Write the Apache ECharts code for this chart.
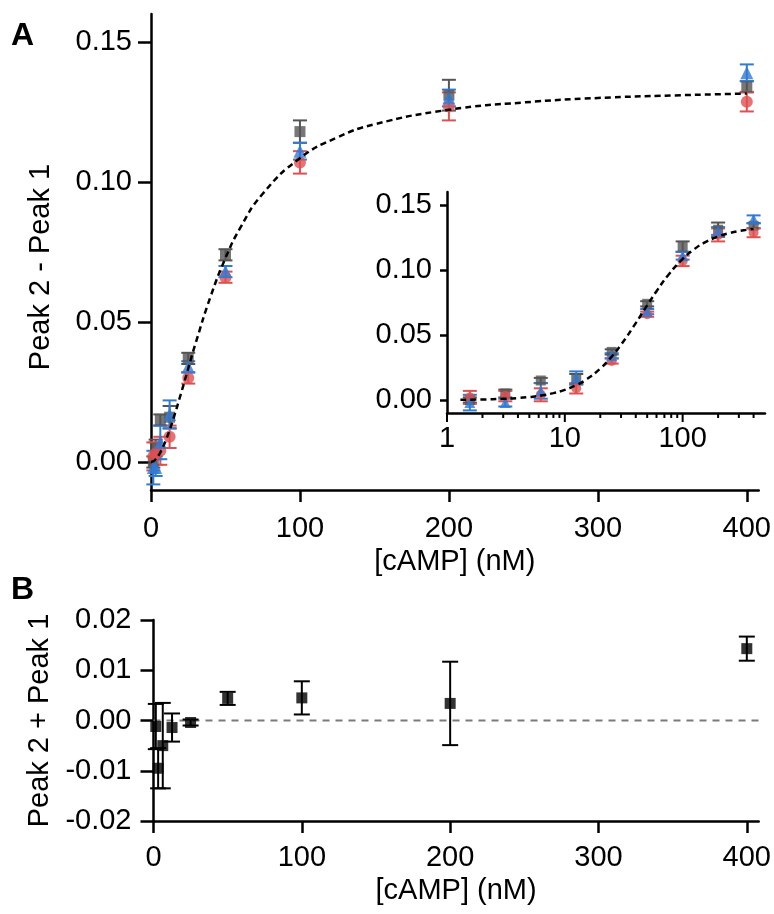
<!DOCTYPE html>
<html>
<head>
<meta charset="utf-8">
<script src="https://cdn.jsdelivr.net/npm/echarts@6/dist/echarts.min.js"></script>
<style>
html,body{margin:0;padding:0;background:#fff;}
#chart{width:774px;height:914px;}
</style>
</head>
<body>
<div id="chart"></div>
<script>
// ---- Data ----
const conc = [1.5625, 3.125, 6.25, 12.5, 25, 50, 100, 200, 400];

const grayY   = [0.000, 0.005, 0.015, 0.016, 0.037, 0.074, 0.118, 0.131, 0.134];
const grayErr = [0.002, 0.003, 0.002, 0.004, 0.002, 0.002, 0.004, 0.0055, 0.002];

const redY    = [0.002, 0.003, 0.004, 0.009, 0.030, 0.066, 0.107, 0.127, 0.1287];
const redErr  = [0.005, 0.004, 0.005, 0.004, 0.002, 0.002, 0.004, 0.005, 0.0035];

const blueY   = [-0.002, -0.002, 0.007, 0.017, 0.034, 0.068, 0.111, 0.130, 0.139];
const blueErr = [0.006, 0.003, 0.006, 0.005, 0.002, 0.002, 0.003, 0.003, 0.003];

const fitX = [0, 1.3, 2, 3, 4, 5, 6.25, 8, 10, 12.5, 15, 20, 25, 30, 40, 50, 60, 75, 100, 125, 150, 200, 250, 300, 350, 400];
const fitY = [0, 0.0002, 0.0004, 0.0009, 0.0015, 0.0023, 0.0034, 0.0053, 0.0078, 0.0114, 0.0154, 0.0242, 0.0334, 0.0425, 0.0591, 0.0728, 0.0837, 0.0958, 0.1085, 0.1159, 0.1206, 0.1258, 0.1284, 0.1300, 0.1309, 0.1316];

const sumY   = [-0.0012, -0.0095, -0.005, -0.0014, -0.0004, 0.0044, 0.0045, 0.0034, 0.0143];
const sumErr = [0.0045, 0.004, 0.0085, 0.0028, 0.0006, 0.0013, 0.0033, 0.0083, 0.0024];

const xTicks = [0, 100, 200, 300, 400];
const yTicksA = [0, 0.05, 0.10, 0.15];
const yTicksB = [-0.02, -0.01, 0, 0.01, 0.02];
const insetMajor = [1, 10, 100];
const insetMinor = [2,3,4,5,6,7,8,9,20,30,40,50,60,70,80,90,200,300,400];

// ---- Styles ----
const FONT = 'Liberation Sans, Arial, sans-serif';
const FS = 29;
const GRAY = '#555555', RED = '#e05050', BLUE = '#2f7bd6';
const AXW = 2.5;

function pairs(xs, ys){ return xs.map((x,i)=>[x, ys[i]]); }
function triples(xs, ys, es){ return xs.map((x,i)=>[x, ys[i], es[i]]); }

function errBar(color, capW){
  return function(params, api){
    const x = api.value(0), y = api.value(1), e = api.value(2);
    const t = api.coord([x, y + e]), b = api.coord([x, y - e]);
    const h = capW / 2;
    const st = {stroke: color, lineWidth: 2};
    return {type:'group', children:[
      {type:'line', shape:{x1:t[0], y1:t[1], x2:b[0], y2:b[1]}, style:st},
      {type:'line', shape:{x1:t[0]-h, y1:t[1], x2:t[0]+h, y2:t[1]}, style:st},
      {type:'line', shape:{x1:b[0]-h, y1:b[1], x2:b[0]+h, y2:b[1]}, style:st}
    ]};
  };
}

function tickRender(params, api){
  const v = api.value(0), len = api.value(1);
  const p = api.coord([v, -0.01]);
  return {type:'line', shape:{x1:p[0], y1:p[1], x2:p[0], y2:p[1] + len}, style:{stroke:'#000', lineWidth:2}};
}

const axisLine = {show:true, onZero:false, lineStyle:{color:'#000', width:AXW}};
const tick = (vals, len)=>({show:true, inside:false, length:len, customValues:vals, lineStyle:{color:'#000', width:AXW}});
const label = (vals, fmt, margin)=>({color:'#000', fontFamily:FONT, fontSize:FS, margin:margin, customValues:vals, formatter:fmt});
const nameStyle = {color:'#000', fontFamily:FONT, fontSize:FS};

const chart = echarts.init(document.getElementById('chart'), null, {renderer:'canvas'});

const option = {
  backgroundColor:'#fff',
  animation:false,
  graphic:[
    {type:'text', left:11, top:20, style:{text:'A', fontFamily:FONT, fontWeight:'bold', fontSize:32, fill:'#000'}},
    {type:'text', left:11, top:574, style:{text:'B', fontFamily:FONT, fontWeight:'bold', fontSize:32, fill:'#000'}}
  ],
  grid:[
    {left:151, top:14, width:615, height:476},
    {left:447, top:192, width:318, height:221},
    {left:153.5, top:620, width:616, height:201}
  ],
  xAxis:[
    {gridIndex:0, type:'value', min:0, max:408,
     name:'[cAMP] (nM)', nameLocation:'middle', nameGap:55, nameTextStyle:nameStyle,
     axisLine, axisTick:tick(xTicks, 12), axisLabel:label(xTicks, v=>String(v), 24), splitLine:{show:false}},
    {gridIndex:1, type:'log', logBase:10, min:1, max:500,
     axisLine, axisTick:{show:false},
     axisLabel:{color:'#000', fontFamily:FONT, fontSize:FS, margin:11,
       formatter:v=> (insetMajor.indexOf(Math.round(v))>=0 && Math.abs(v-Math.round(v))<1e-6) ? String(Math.round(v)) : ''},
     splitLine:{show:false}, minorTick:{show:false}},
    {gridIndex:2, type:'value', min:0, max:408,
     name:'[cAMP] (nM)', nameLocation:'middle', nameGap:55, nameTextStyle:nameStyle,
     axisLine, axisTick:tick(xTicks, 12), axisLabel:label(xTicks, v=>String(v), 22), splitLine:{show:false}}
  ],
  yAxis:[
    {gridIndex:0, type:'value', min:-0.01, max:0.16,
     name:'Peak 2 - Peak 1', nameLocation:'middle', nameGap:96, nameRotate:90,
     nameTextStyle:{...nameStyle, padding:[0, 30, 0, 0]},
     axisLine, axisTick:tick(yTicksA, 13), axisLabel:label(yTicksA, v=>v.toFixed(2), 19), splitLine:{show:false}},
    {gridIndex:1, type:'value', min:-0.01, max:0.16,
     axisLine, axisTick:tick(yTicksA, 7), axisLabel:label(yTicksA, v=>v.toFixed(2), 15), splitLine:{show:false}},
    {gridIndex:2, type:'value', min:-0.02, max:0.02,
     name:'Peak 2 + Peak 1', nameLocation:'middle', nameGap:98, nameRotate:90, nameTextStyle:nameStyle,
     axisLine, axisTick:tick(yTicksB, 13), axisLabel:label(yTicksB, v=>v.toFixed(2), 22), splitLine:{show:false}}
  ],
  series:[
    // Panel A main
    {type:'line', xAxisIndex:0, yAxisIndex:0, data:pairs(fitX, fitY), smooth:true, showSymbol:false, symbol:'none',
     lineStyle:{color:'#000', width:2.5, type:[6,4]}, z:3},
    {type:'custom', xAxisIndex:0, yAxisIndex:0, data:triples(conc, grayY, grayErr), renderItem:errBar(GRAY, 14), z:2},
    {type:'scatter', xAxisIndex:0, yAxisIndex:0, data:pairs(conc, grayY), symbol:'rect', symbolSize:11, itemStyle:{color:GRAY}, z:2},
    {type:'custom', xAxisIndex:0, yAxisIndex:0, data:triples(conc, redY, redErr), renderItem:errBar(RED, 14), z:2},
    {type:'scatter', xAxisIndex:0, yAxisIndex:0, data:pairs(conc, redY), symbol:'circle', symbolSize:12, itemStyle:{color:RED}, z:2},
    {type:'custom', xAxisIndex:0, yAxisIndex:0, data:triples(conc, blueY, blueErr), renderItem:errBar(BLUE, 14), z:2},
    {type:'scatter', xAxisIndex:0, yAxisIndex:0, data:pairs(conc, blueY), symbol:'triangle', symbolSize:13, itemStyle:{color:BLUE}, z:2},

    // Inset
    {type:'line', xAxisIndex:1, yAxisIndex:1, data:pairs(fitX.slice(1), fitY.slice(1)), smooth:true, showSymbol:false, symbol:'none',
     lineStyle:{color:'#000', width:2.5, type:[6,4]}, z:3},
    {type:'custom', xAxisIndex:1, yAxisIndex:1, data:triples(conc, grayY, grayErr), renderItem:errBar(GRAY, 14), z:2},
    {type:'scatter', xAxisIndex:1, yAxisIndex:1, data:pairs(conc, grayY), symbol:'rect', symbolSize:10, itemStyle:{color:GRAY}, z:2},
    {type:'custom', xAxisIndex:1, yAxisIndex:1, data:triples(conc, redY, redErr), renderItem:errBar(RED, 14), z:2},
    {type:'scatter', xAxisIndex:1, yAxisIndex:1, data:pairs(conc, redY), symbol:'circle', symbolSize:10, itemStyle:{color:RED}, z:2},
    {type:'custom', xAxisIndex:1, yAxisIndex:1, data:triples(conc, blueY, blueErr), renderItem:errBar(BLUE, 14), z:2},
    {type:'scatter', xAxisIndex:1, yAxisIndex:1, data:pairs(conc, blueY), symbol:'triangle', symbolSize:11, itemStyle:{color:BLUE}, z:2},
    {type:'custom', xAxisIndex:1, yAxisIndex:1, silent:true, clip:false,
     data: insetMajor.map(v=>[v, 9]).concat(insetMinor.map(v=>[v, 5])), renderItem:tickRender, z:4},

    // Panel B
    {type:'line', xAxisIndex:2, yAxisIndex:2, data:[[0,0],[408,0]], showSymbol:false, symbol:'none',
     lineStyle:{color:'#7a7a7a', width:2, type:[7,6]}, z:1},
    {type:'custom', xAxisIndex:2, yAxisIndex:2, data:triples(conc, sumY, sumErr), renderItem:errBar('#000', 16), z:2},
    {type:'scatter', xAxisIndex:2, yAxisIndex:2, data:pairs(conc, sumY), symbol:'rect', symbolSize:11, itemStyle:{color:'#000'}, z:2}
  ]
};
chart.setOption(option);
</script>
</body>
</html>
